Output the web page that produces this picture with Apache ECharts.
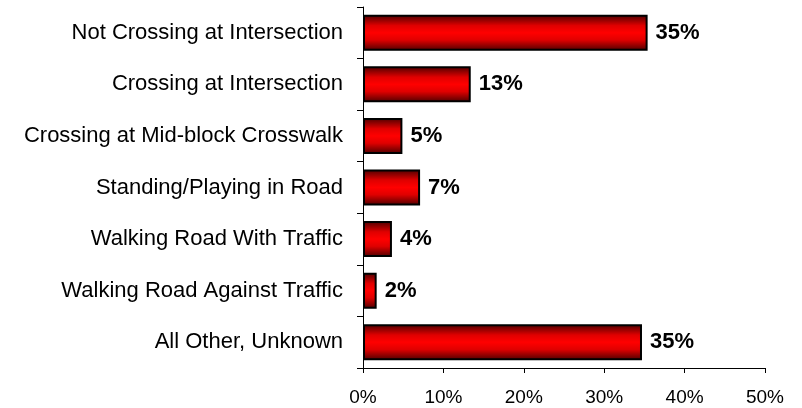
<!DOCTYPE html>
<html>
<head>
<meta charset="utf-8">
<script src="https://cdn.jsdelivr.net/npm/echarts@6/dist/echarts.min.js"></script>
<style>
html,body{margin:0;padding:0;background:#fff;}
#chart{width:802px;height:408px;}
</style>
</head>
<body>
<div id="chart"></div>
<script>
const categories = [
  "Not Crossing at Intersection",
  "Crossing at Intersection",
  "Crossing at Mid-block Crosswalk",
  "Standing/Playing in Road",
  "Walking Road With Traffic",
  "Walking Road Against Traffic",
  "All Other, Unknown"
];
const values = [35.4, 13.4, 4.9, 7.1, 3.6, 1.7, 34.7];
const valueLabels = ["35%", "13%", "5%", "7%", "4%", "2%", "35%"];
const xTicks = [0, 10, 20, 30, 40, 50];

const chart = echarts.init(document.getElementById('chart'), null, {renderer: 'canvas'});
const font = '"Liberation Sans", Arial, Helvetica, sans-serif';
chart.setOption({
  animation: false,
  backgroundColor: '#ffffff',
  grid: {left: 363, right: 37, top: 7, bottom: 40, containLabel: false},
  xAxis: {
    type: 'value',
    min: xTicks[0],
    max: xTicks[xTicks.length - 1],
    interval: xTicks[1] - xTicks[0],
    axisLine: {show: true, lineStyle: {color: '#000', width: 1}},
    axisTick: {show: true, length: 5, lineStyle: {color: '#000'}},
    splitLine: {show: false},
    axisLabel: {formatter: '{value}%', color: '#000', fontSize: 19, fontFamily: font, margin: 20}
  },
  yAxis: {
    type: 'category',
    data: categories,
    inverse: true,
    axisLine: {show: true, lineStyle: {color: '#000', width: 1}},
    axisTick: {show: true, length: 6, lineStyle: {color: '#000'}},
    axisLabel: {color: '#000', fontSize: 22, fontFamily: font, margin: 20}
  },
  series: [{
    type: 'bar',
    data: values,
    barWidth: 36,
    itemStyle: {
      borderColor: '#000',
      borderWidth: 2,
      color: new echarts.graphic.LinearGradient(0, 0, 0, 1, [
        {offset: 0, color: '#4a0000'},
        {offset: 0.3, color: '#e00000'},
        {offset: 0.5, color: '#ff0000'},
        {offset: 0.7, color: '#e00000'},
        {offset: 1, color: '#4a0000'}
      ])
    },
    label: {
      show: true,
      position: 'right',
      distance: 8,
      formatter: p => valueLabels[p.dataIndex],
      color: '#000',
      fontSize: 22,
      fontWeight: 'bold',
      fontFamily: font
    }
  }]
});
</script>
</body>
</html>
